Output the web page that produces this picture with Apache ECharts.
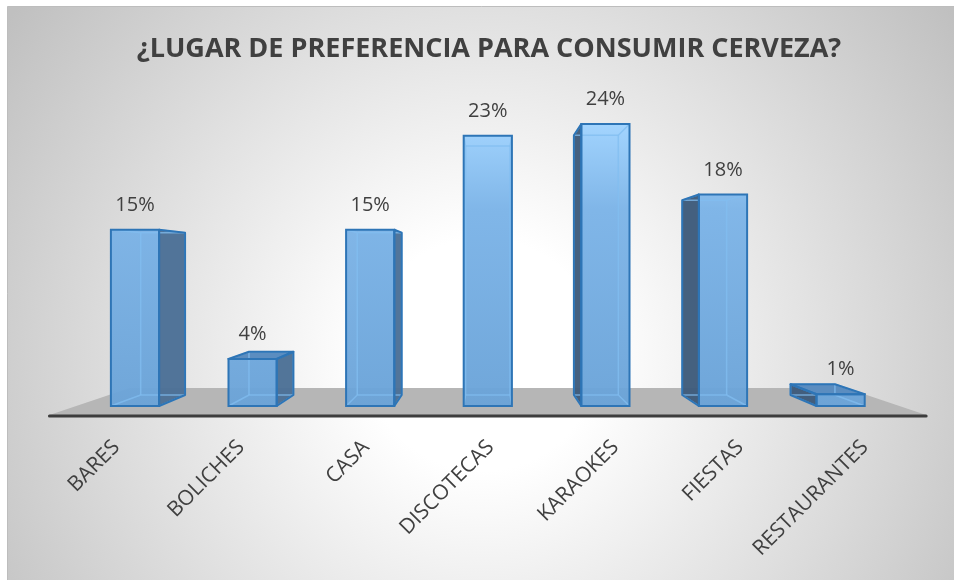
<!DOCTYPE html>
<html>
<head>
<meta charset="utf-8">
<title>Lugar de preferencia</title>
<script src="https://cdn.jsdelivr.net/npm/echarts@6/dist/echarts.min.js"></script>
<style>
  html, body { margin: 0; padding: 0; background: #ffffff; }
  #chart { width: 954px; height: 580px; }
</style>
</head>
<body>
<div id="chart"></div>
<script type="text/javascript">
    // datos del grafico
    var categorias = ['BARES', 'BOLICHES', 'CASA', 'DISCOTECAS', 'KARAOKES', 'FIESTAS', 'RESTAURANTES'];
    var porcentajes = [15, 4, 15, 23, 24, 18, 1];
    var titulo = '¿LUGAR DE PREFERENCIA PARA CONSUMIR CERVEZA?';

    // perspectiva (punto de fuga y profundidades)
    var VP_Y = 267;
    var K_BACK = 0.921;
    var K_FLOOR_FRONT = 1.065;
    var K_FLOOR_BACK = 0.87;
    var FONT = "'Open Sans', 'Noto Sans', sans-serif";

    function proj(p, k, vx, vy) {
        return [vx + (p[0] - vx) * k, vy + (p[1] - vy) * k];
    }

    var myChart = echarts.init(document.getElementById('chart'));

    function renderFloor(params, api) {
        var cs = params.coordSys;
        var vx = cs.x + cs.width / 2;
        var yB = cs.y + cs.height;
        var l = cs.x, r = cs.x + cs.width;
        var fl = proj([l, yB], K_FLOOR_FRONT, vx, VP_Y);
        var fr = proj([r, yB], K_FLOOR_FRONT, vx, VP_Y);
        var bl = proj([l, yB], K_FLOOR_BACK, vx, VP_Y);
        var br = proj([r, yB], K_FLOOR_BACK, vx, VP_Y);
        return {
            type: 'group',
            children: [{
                type: 'polygon',
                shape: { points: [bl, br, fr, fl] },
                style: { fill: '#b6b6b6' }
            }, {
                type: 'line',
                shape: { x1: fl[0], y1: fl[1] + 1, x2: fr[0], y2: fr[1] + 1 },
                style: { stroke: '#3d3d3d', lineWidth: 3, lineCap: 'round' }
            }]
        };
    }

    function renderBar(params, api) {
        var cs = params.coordSys;
        var vx = cs.x + cs.width / 2;
        var vy = VP_Y;
        var top = api.coord([api.value(0), api.value(1)]);
        var base = api.coord([api.value(0), 0]);
        var w = api.size([1, 0])[0] * 0.41;
        var x0 = top[0] - w / 2, x1 = top[0] + w / 2;
        var yT = top[1], yB = base[1];
        var F = [[x0, yT], [x1, yT], [x1, yB], [x0, yB]];
        var B = F.map(function (p) { return proj(p, K_BACK, vx, vy); });
        var edge = '#2e75b6';
        var kids = [];

        // cara trasera
        kids.push({ type: 'polygon', shape: { points: B }, style: { fill: 'rgba(91,155,213,0.25)' } });

        // cara lateral visible
        var side = null, sideFill;
        if (x1 < vx) { side = [F[1], B[1], B[2], F[2]]; sideFill = '#4b6f95'; }
        else if (x0 > vx) { side = [F[0], B[0], B[3], F[3]]; sideFill = '#3d5a79'; }
        if (side) {
            kids.push({ type: 'polygon', shape: { points: side }, style: { fill: sideFill, opacity: 0.95 } });
        }
        // cara superior
        var topFace = null;
        if (yT > vy) {
            topFace = [F[0], F[1], B[1], B[0]];
            kids.push({ type: 'polygon', shape: { points: topFace }, style: { fill: '#5b8dc0' } });
        }
        // cara frontal
        kids.push({
            type: 'rect',
            shape: { x: x0, y: yT, width: w, height: yB - yT },
            style: {
                fill: new echarts.graphic.LinearGradient(0, 124, 0, 406, [
                    { offset: 0, color: '#9fd3ff' },
                    { offset: 0.3, color: '#7cb4e8' },
                    { offset: 1, color: '#6aa3d8' }
                ], true),
                opacity: 0.95
            }
        });
        // aristas ocultas (vidrio)
        var hidden = [
            [B[0], B[1]], [B[1], B[2]], [B[2], B[3]], [B[3], B[0]],
            [F[0], B[0]], [F[1], B[1]], [F[2], B[2]], [F[3], B[3]]
        ];
        hidden.forEach(function (s) {
            kids.push({
                type: 'line',
                shape: { x1: s[0][0], y1: s[0][1], x2: s[1][0], y2: s[1][1] },
                style: { stroke: 'rgba(130,190,240,0.75)', lineWidth: 1.5 }
            });
        });
        // contornos visibles
        if (side) {
            kids.push({ type: 'polygon', shape: { points: side }, style: { fill: 'none', stroke: edge, lineWidth: 2, lineJoin: 'round' } });
        }
        if (topFace) {
            kids.push({ type: 'polygon', shape: { points: topFace }, style: { fill: 'none', stroke: edge, lineWidth: 2, lineJoin: 'round' } });
        }
        kids.push({
            type: 'rect',
            shape: { x: x0, y: yT, width: w, height: yB - yT },
            style: { fill: 'none', stroke: edge, lineWidth: 2 }
        });
        // etiqueta de datos
        kids.push({
            type: 'text',
            x: top[0],
            y: yT - 24.5,
            style: {
                text: api.value(1) + '%',
                align: 'center',
                verticalAlign: 'middle',
                fontFamily: FONT,
                fontSize: 20,
                fill: '#404040'
            }
        });
        return { type: 'group', children: kids };
    }

    var datosBarras = categorias.map(function (c, i) { return [i, porcentajes[i]]; });

    myChart.setOption({
        backgroundColor: '#ffffff',
        animation: false,
        graphic: [{
            type: 'rect',
            z: -10,
            silent: true,
            shape: { x: 7.5, y: 6.5, width: 950, height: 580 },
            style: {
                fill: new echarts.graphic.RadialGradient(0.5, 0.6, 1.0, [
                    { offset: 0, color: '#ffffff' },
                    { offset: 0.2, color: '#ffffff' },
                    { offset: 1, color: '#c0c0c0' }
                ]),
                stroke: '#bdbdbd',
                lineWidth: 1
            }
        }],
        title: {
            text: titulo,
            left: 484,
            top: 31,
            textAlign: 'center',
            textStyle: {
                fontFamily: FONT,
                fontWeight: 'bold',
                fontSize: 27,
                color: '#404040'
            }
        },
        grid: [
            { left: 76.2, right: 954 - 899.4, top: 112.25, bottom: 174 },
            { left: 54, right: 26.6, top: 112.25, bottom: 174 }
        ],
        xAxis: [{
            type: 'category',
            gridIndex: 0,
            data: categorias,
            axisLine: { show: false },
            axisTick: { show: false },
            axisLabel: { show: false }
        }, {
            type: 'category',
            gridIndex: 1,
            data: categorias,
            axisLine: { show: false },
            axisTick: { show: false },
            axisLabel: {
                rotate: 45,
                margin: 38,
                interval: 0,
                fontFamily: FONT,
                fontSize: 21,
                color: '#404040'
            }
        }],
        yAxis: [{
            type: 'value',
            gridIndex: 0,
            min: 0,
            max: 25,
            show: false
        }, {
            type: 'value',
            gridIndex: 1,
            min: 0,
            max: 25,
            show: false
        }],
        series: [{
            name: 'piso',
            type: 'custom',
            xAxisIndex: 0,
            yAxisIndex: 0,
            silent: true,
            renderItem: renderFloor,
            data: [[0, 0]]
        }, {
            name: 'Preferencia',
            type: 'custom',
            xAxisIndex: 0,
            yAxisIndex: 0,
            renderItem: renderBar,
            encode: { x: 0, y: 1 },
            data: datosBarras
        }]
    });
</script>
</body>
</html>
